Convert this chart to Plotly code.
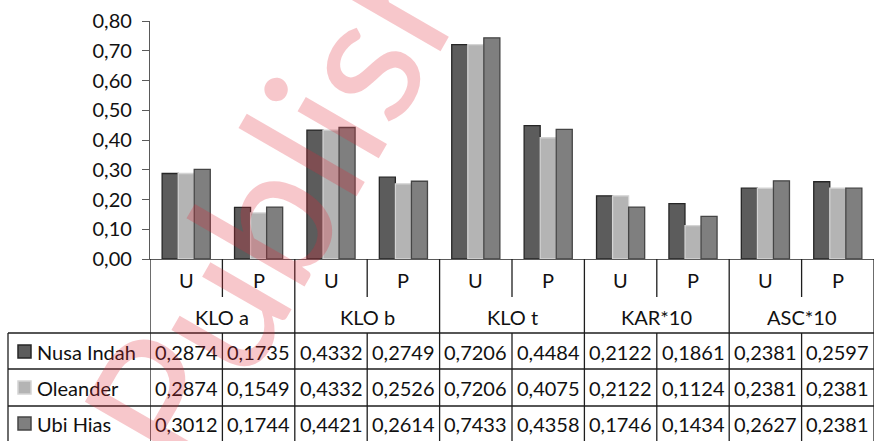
import plotly.graph_objects as go

# ---- data ----
groups = ["KLO a", "KLO b", "KLO t", "KAR*10", "ASC*10"]
stages = ["U", "P"]
series_names = ["Nusa Indah", "Oleander", "Ubi Hias"]
nusa_indah = [0.2874, 0.1735, 0.4332, 0.2749, 0.7206, 0.4484, 0.2122, 0.1861, 0.2381, 0.2597]
oleander = [0.2874, 0.1549, 0.4332, 0.2526, 0.7206, 0.4075, 0.2122, 0.1124, 0.2381, 0.2381]
ubi_hias = [0.3012, 0.1744, 0.4421, 0.2614, 0.7433, 0.4358, 0.1746, 0.1434, 0.2627, 0.2381]
y_ticks = [0.0, 0.1, 0.2, 0.3, 0.4, 0.5, 0.6, 0.7, 0.8]

series_values = [nusa_indah, oleander, ubi_hias]
fills = ["#5c5c5c", "#b4b4b4", "#7f7f7f"]
edges = ["#262626", "#d4d4d4", "#454545"]

W, H = 874, 441
ML, MR, MT, MB = 150, 0, 21, 182
plot_h = H - MT - MB
FONT = "Lato"
TXT = "#111111"
GRID = "#1e1e1e"

n = len(nusa_indah)
xs = list(range(n))


def py(pix):
    """pixel row -> paper y"""
    return (H - MB - pix) / plot_h


def px(pix):
    """pixel column -> paper x"""
    return (pix - ML) / (W - ML - MR)


fig = go.Figure()
for name, vals, fc, ec in zip(series_names, series_values, fills, edges):
    fig.add_trace(go.Bar(
        x=xs, y=vals, name=name,
        marker=dict(color=fc, line=dict(color=ec, width=1.3)),
        showlegend=False,
    ))

shapes = []
annotations = []


def label(x, y, text, xref="x", xanchor="center"):
    annotations.append(dict(x=x, y=y, xref=xref, yref="paper", text=text,
                            xanchor=xanchor, yanchor="middle", showarrow=False,
                            font=dict(family=FONT, size=20, color=TXT)))


def vline(x, y0, y1):
    shapes.append(dict(type="line", xref="x", yref="paper", x0=x, x1=x,
                       y0=py(y0), y1=py(y1), line=dict(color=GRID, width=1.3)))


def hline(y, x0pix, x1pix):
    shapes.append(dict(type="line", xref="paper", yref="paper", x0=px(x0pix), x1=px(x1pix),
                       y0=py(y), y1=py(y), line=dict(color=GRID, width=1.3)))


axis_y, stage_bottom, group_bottom = 259, 297, 333
row_lines = [333, 369, 406]
row_centers = [352, 388, 424]

# stage labels and separators
for i in range(n):
    label(i, py(280), stages[i % 2])
    b = i + 0.5
    if i % 2 == 0:
        vline(b, axis_y, stage_bottom)
        vline(b, group_bottom, H + 2)
    else:
        vline(b, axis_y, H + 2)
vline(-0.5, axis_y, H + 2)

# group labels
for g, name in enumerate(groups):
    label(2 * g + 0.5, py(317), name)

# data table
for yl in row_lines:
    hline(yl, 8, W + 2)
shapes.append(dict(type="line", xref="paper", yref="paper", x0=px(8), x1=px(8),
                   y0=py(333), y1=py(H + 2), line=dict(color=GRID, width=1.3)))

for r, (name, vals, fc, ec) in enumerate(zip(series_names, series_values, fills, edges)):
    yc = row_centers[r]
    shapes.append(dict(type="rect", xref="paper", yref="paper",
                       x0=px(18), x1=px(31), y0=py(yc - 7), y1=py(yc + 6),
                       fillcolor=fc, line=dict(color=ec, width=1.5)))
    label(px(35), py(yc), name, xref="paper", xanchor="left")
    for i, v in enumerate(vals):
        label(i, py(yc), f"{v:.4f}".replace(".", ","))

# diagonal watermark
annotations.append(dict(x=px(317), y=py(121), xref="paper", yref="paper", text="Publisher",
                        textangle=-60, showarrow=False, xanchor="center", yanchor="middle",
                        font=dict(family=FONT, size=185, color="rgba(226,40,55,0.26)")))

fig.update_layout(
    width=W, height=H,
    margin=dict(l=ML, r=MR, t=MT, b=MB),
    paper_bgcolor="white", plot_bgcolor="white",
    separators=",.",
    barmode="group", bargap=0.335, bargroupgap=0.0,
    shapes=shapes, annotations=annotations,
    font=dict(family=FONT, size=20, color=TXT),
)
fig.update_xaxes(range=[-0.5, n - 0.5], showticklabels=False, showgrid=False,
                 zeroline=False, showline=True, linecolor="#5a5a5a", linewidth=1.3, ticks="")
fig.update_yaxes(range=[0, 0.8], tickvals=y_ticks, tickformat=".2f", showgrid=False,
                 zeroline=False, showline=True, linecolor="#5a5a5a", linewidth=1.3,
                 ticks="outside", ticklen=7, tickcolor="#5a5a5a", tickwidth=1.3,
                 tickfont=dict(family=FONT, size=20, color=TXT), ticklabelstandoff=6)

fig.write_html("out.html")
